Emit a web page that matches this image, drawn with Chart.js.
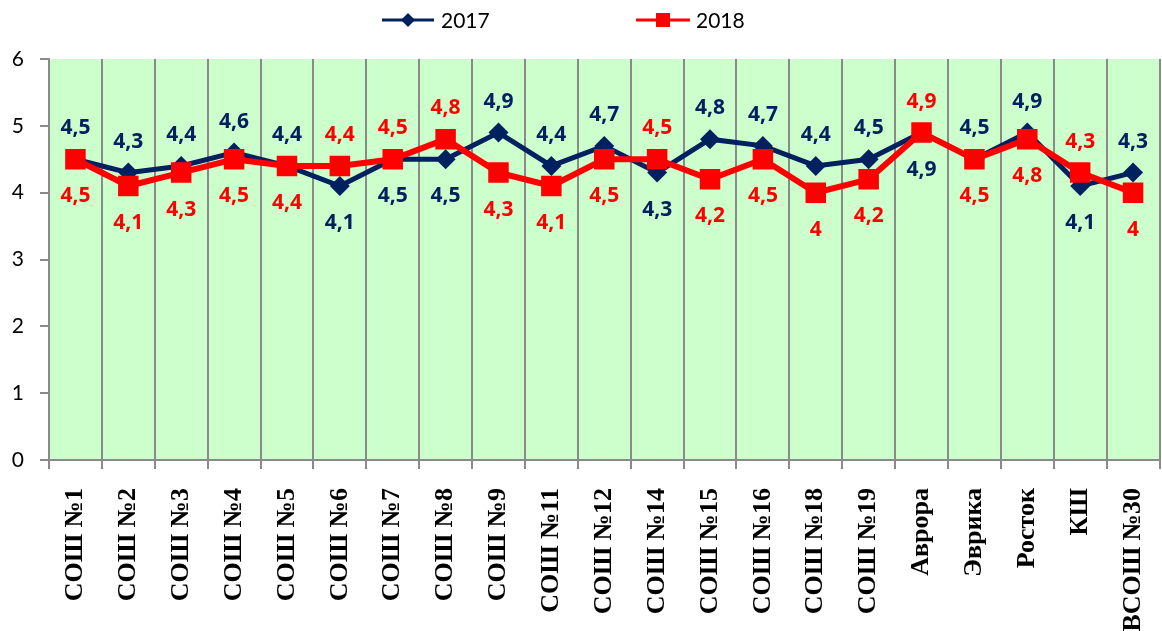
<!DOCTYPE html>
<html>
<head>
<meta charset="utf-8">
<script src="https://cdn.jsdelivr.net/npm/chart.js@4"></script>
<style>
  html, body { margin: 0; padding: 0; background: #fff; overflow: hidden; }
  #wrap { position: relative; width: 1174px; height: 631px; }
</style>
</head>
<body>
<div id="wrap"><canvas id="chart"></canvas></div>
<script>
const schools = ['СОШ №1', 'СОШ №2', 'СОШ №3', 'СОШ №4', 'СОШ №5', 'СОШ №6', 'СОШ №7', 'СОШ №8', 'СОШ №9',
  'СОШ №11', 'СОШ №12', 'СОШ №14', 'СОШ №15', 'СОШ №16', 'СОШ №18', 'СОШ №19', 'Аврора', 'Эврика',
  'Росток', 'КШ', 'ВСОШ №30'];
const scores2017 = [4.5, 4.3, 4.4, 4.6, 4.4, 4.1, 4.5, 4.5, 4.9, 4.4, 4.7, 4.3, 4.8, 4.7, 4.4, 4.5, 4.9, 4.5, 4.9, 4.1, 4.3];
const scores2018 = [4.5, 4.1, 4.3, 4.5, 4.4, 4.4, 4.5, 4.8, 4.3, 4.1, 4.5, 4.5, 4.2, 4.5, 4.0, 4.2, 4.9, 4.5, 4.8, 4.3, 4.0];
const yTicks = [0, 1, 2, 3, 4, 5, 6];
// equal values: where the 2017 label sits on top
const tiesTop2017 = [0, 4, 17];

const NAVY = '#002060';
const RED = '#ff0000';
const GRID = '#8a8a8a';

const fmt = v => String(v).replace('.', ',');

const bgPlugin = {
  id: 'plotBg',
  beforeDraw(chart) {
    const { ctx, chartArea: a } = chart;
    ctx.save();
    ctx.fillStyle = '#ccffcc';
    ctx.fillRect(a.left, a.top, a.right - a.left, a.bottom - a.top);
    ctx.restore();
  }
};

const labelPlugin = {
  id: 'valueLabels',
  afterDatasetsDraw(chart) {
    const { ctx } = chart;
    const m17 = chart.getDatasetMeta(0), m18 = chart.getDatasetMeta(1);
    ctx.save();
    ctx.font = 'bold 21px "Open Sans"';
    ctx.textAlign = 'center';
    ctx.textBaseline = 'middle';
    schools.forEach((s, i) => {
      const a = scores2017[i], b = scores2018[i];
      const top17 = a > b || (a === b && tiesTop2017.includes(i));
      const p17 = m17.data[i], p18 = m18.data[i];
      ctx.fillStyle = NAVY;
      ctx.fillText(fmt(a), p17.x, p17.y + (top17 ? -31 : 37));
      ctx.fillStyle = RED;
      ctx.fillText(fmt(b), p18.x, p18.y + (top17 ? 37 : -31));
    });
    ctx.restore();
  }
};

const legendPlugin = {
  id: 'customLegend',
  afterDraw(chart) {
    const { ctx } = chart;
    const y = 20;
    ctx.save();
    ctx.lineWidth = 3;
    // 2017
    ctx.strokeStyle = NAVY;
    ctx.beginPath(); ctx.moveTo(382, y); ctx.lineTo(434, y); ctx.stroke();
    ctx.fillStyle = NAVY;
    ctx.beginPath();
    ctx.moveTo(408 - 7, y); ctx.lineTo(408, y - 7); ctx.lineTo(408 + 7, y); ctx.lineTo(408, y + 7);
    ctx.closePath(); ctx.fill();
    // 2018
    ctx.strokeStyle = RED;
    ctx.beginPath(); ctx.moveTo(636, y); ctx.lineTo(690, y); ctx.stroke();
    ctx.fillStyle = RED;
    ctx.fillRect(663 - 7, y - 7, 14, 14);
    ctx.fillStyle = '#000';
    ctx.font = '21px Lato';
    ctx.textBaseline = 'middle';
    ctx.fillText('2017', 441, y + 1);
    ctx.fillText('2018', 696, y + 1);
    ctx.restore();
  }
};

new Chart(document.getElementById('chart'), {
  type: 'line',
  data: {
    labels: schools,
    datasets: [
      { label: '2017', data: scores2017, borderColor: NAVY, backgroundColor: NAVY, borderWidth: 5,
        pointStyle: 'rectRot', pointRadius: 10, pointBorderWidth: 0, order: 1 },
      { label: '2018', data: scores2018, borderColor: RED, backgroundColor: RED, borderWidth: 6,
        pointStyle: 'rect', pointRadius: 14.5, pointBorderWidth: 0, order: 0 }
    ]
  },
  options: {
    responsive: true,
    maintainAspectRatio: false,
    animation: false,
    layout: { padding: { top: 59, right: 1, left: 0, bottom: 0 } },
    plugins: { legend: { display: false }, tooltip: { enabled: false } },
    scales: {
      x: {
        offset: true,
        grid: { offset: true, color: GRID, lineWidth: 2, tickLength: 9, drawOnChartArea: true },
        border: { color: GRID, width: 2 },
        ticks: { autoSkip: false, minRotation: 90, maxRotation: 90, padding: 19, color: '#000',
          font: { family: 'Liberation Serif', size: 26, weight: 'bold' } },
        afterFit(scale) { scale.height = 171; scale.paddingLeft = 0; scale.paddingRight = 0; }
      },
      y: {
        min: 0, max: 6,
        afterBuildTicks(scale) { scale.ticks = yTicks.map(v => ({ value: v })); },
        grid: { drawOnChartArea: false, color: GRID, lineWidth: 2, tickLength: 9 },
        border: { color: GRID, width: 2 },
        ticks: { padding: 16, color: '#000', font: { family: 'Lato', size: 21 } },
        afterFit(scale) { scale.width = 49; scale.paddingTop = 0; scale.paddingBottom = 0; }
      }
    }
  },
  plugins: [bgPlugin, labelPlugin, legendPlugin]
});
</script>
</body>
</html>
